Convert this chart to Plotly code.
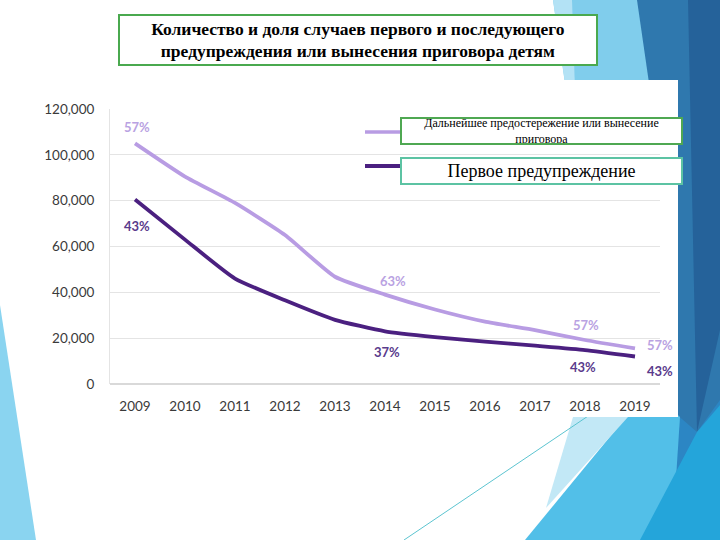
import plotly.graph_objects as go

years = ["2009", "2010", "2011", "2012", "2013", "2014", "2015", "2016", "2017", "2018", "2019"]
further = [105000, 90500, 79000, 65000, 46800, 39000, 32500, 27200, 23500, 19200, 15500]
first = [80500, 63000, 46000, 36500, 28000, 23000, 20500, 18500, 16700, 14800, 12000]
further_name = "Дальнейшее предостережение или вынесение<br>приговора"
first_name = "Первое предупреждение"
title_text = "Количество и доля случаев первого и последующего<br>предупреждения или вынесения приговора детям"
y_ticks = [0, 20000, 40000, 60000, 80000, 100000, 120000]
y_tick_text = ["0", "20,000", "40,000", "60,000", "80,000", "100,000", "120,000"]
# percentage labels: (year index, series, text, xshift, yshift)
pct_labels = [
    (0, "further", "57%", 2, 16), (0, "first", "43%", 2, -26),
    (5, "further", "63%", 8, 14), (5, "first", "37%", 2, -21),
    (9, "further", "57%", 1, 15), (9, "first", "43%", -2, -17),
    (10, "further", "57%", 25, 3), (10, "first", "43%", 25, -14),
]

LIGHT = "#b89ce3"
DARK = "#4b2080"
LIGHT_TXT = "#b9a2e2"
DARK_TXT = "#5a3b8c"

W, H = 720, 540
def X(px): return px / W
def Y(py): return 1 - py / H

def poly(pts, color):
    d = "M " + " L ".join(f"{X(a):.5f},{Y(b):.5f}" for a, b in pts) + " Z"
    return dict(type="path", xref="paper", yref="paper", path=d,
                fillcolor=color, line=dict(width=0), layer="below")

shapes = [
    # left cyan triangle
    poly([(0, 305), (36, 540), (0, 540)], "#8ad4f0"),
    # right side background
    poly([(636, 0), (720, 0), (720, 540), (650, 540)], "#2f78ae"),
    poly([(688, 0), (720, 0), (720, 330), (697, 432)], "#25629a"),
    poly([(553, 0), (637, 0), (650, 90), (566, 90)], "#80cdec"),
    poly([(553, 0), (572, 0), (575, 90), (566, 90)], "#b3e2f5"),
    poly([(660, 400), (697, 432), (720, 400), (720, 540), (650, 540)], "#2c86c4"),
    poly([(525, 540), (650, 388), (680, 417), (672, 540)], "#52bfe8"),
    poly([(640, 540), (697, 432), (720, 405), (720, 540)], "#24a5da"),
    poly([(573, 417), (628, 417), (546, 508)], "#c2e8f6"),
    dict(type="line", xref="paper", yref="paper", x0=X(600), y0=Y(408), x1=X(404), y1=Y(540),
         line=dict(color="#5cc4d0", width=1), layer="below"),
    # white chart panel
    dict(type="rect", xref="paper", yref="paper", x0=X(26), y0=Y(80), x1=X(678), y1=Y(417),
         fillcolor="white", line=dict(width=0), layer="below"),
    # legend samples
    dict(type="line", xref="paper", yref="paper", x0=X(365), y0=Y(132), x1=X(402), y1=Y(132),
         line=dict(color=LIGHT, width=3.5)),
    dict(type="line", xref="paper", yref="paper", x0=X(365), y0=Y(166), x1=X(402), y1=Y(166),
         line=dict(color=DARK, width=4)),
]

fig = go.Figure()
fig.add_trace(go.Scatter(x=years, y=further, mode="lines", name=further_name,
                         line=dict(color=LIGHT, width=3.8, shape="spline", smoothing=0.5)))
fig.add_trace(go.Scatter(x=years, y=first, mode="lines", name=first_name,
                         line=dict(color=DARK, width=3.8, shape="spline", smoothing=0.5)))

annotations = []
for idx, series, txt, xs, ys in pct_labels:
    val = further[idx] if series == "further" else first[idx]
    annotations.append(dict(x=idx, y=val, xref="x", yref="y", text=f"<b>{txt}</b>",
                            showarrow=False, xshift=xs, yshift=ys,
                            font=dict(family="Lato, Open Sans, sans-serif", size=13,
                                      color=LIGHT_TXT if series == "further" else DARK_TXT)))

annotations.append(dict(xref="paper", yref="paper", x=X(358), y=Y(40), text=f"<b>{title_text}</b>",
                        showarrow=False, xanchor="center", yanchor="middle",
                        width=476, height=48, borderpad=0, bgcolor="white",
                        bordercolor="#4aa94f", borderwidth=2,
                        font=dict(family="Liberation Serif, Times New Roman, serif", size=17.5, color="black")))
annotations.append(dict(xref="paper", yref="paper", x=X(541.5), y=Y(131), text=further_name,
                        showarrow=False, xanchor="center", yanchor="middle",
                        width=279, height=24, borderpad=0, bgcolor="white",
                        bordercolor="#4fa852", borderwidth=2,
                        font=dict(family="Liberation Serif, Times New Roman, serif", size=12, color="black")))
annotations.append(dict(xref="paper", yref="paper", x=X(541.5), y=Y(171), text=first_name,
                        showarrow=False, xanchor="center", yanchor="middle",
                        width=279, height=24, borderpad=0, bgcolor="white",
                        bordercolor="#5cc3a3", borderwidth=2,
                        font=dict(family="Liberation Serif, Times New Roman, serif", size=18, color="black")))

fig.update_layout(
    width=W, height=H,
    margin=dict(l=0, r=0, t=0, b=0, pad=0, autoexpand=False),
    paper_bgcolor="white",
    plot_bgcolor="rgba(0,0,0,0)",
    showlegend=False,
    shapes=shapes,
    annotations=annotations,
    xaxis=dict(domain=[X(110), X(660)], type="category", range=[-0.5, 10.5], automargin=False,
               showgrid=False, showline=False, zeroline=False, ticks="",
               tickfont=dict(family="Lato, sans-serif", size=13.5, color="#3a3a3a"),
               ticklabelstandoff=12),
    yaxis=dict(domain=[Y(384), Y(109)], range=[0, 120000], tickvals=y_ticks, ticktext=y_tick_text,
               automargin=False,
               showgrid=True, gridcolor="#e4e4e4", gridwidth=1, zeroline=True, zerolinecolor="#d9d9d9",
               showline=True, linecolor="#e4e4e4", linewidth=1, ticks="",
               tickfont=dict(family="Lato, sans-serif", size=13.5, color="#3a3a3a"),
               ticklabelstandoff=12),
)

fig.write_html("out.html")
